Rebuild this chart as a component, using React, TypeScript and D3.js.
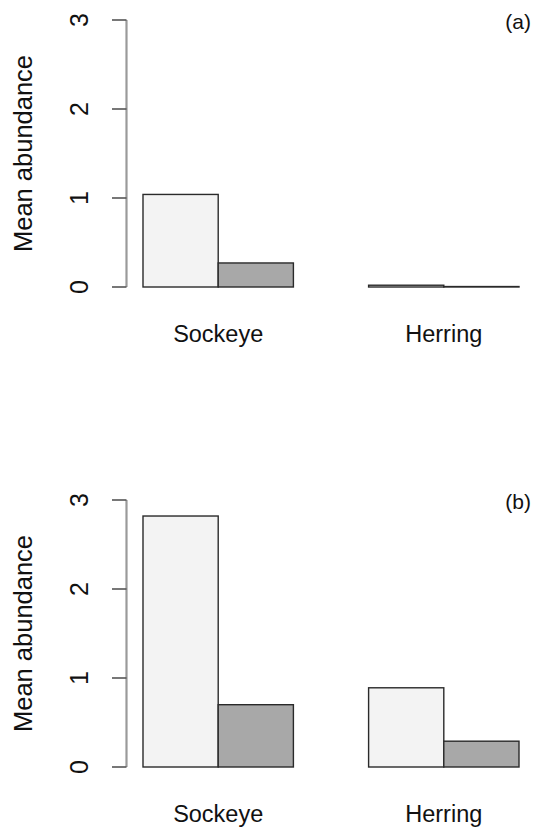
import React from "react";
import * as d3 from "d3";

const categories = ["Sockeye", "Herring"];
const seriesNames = ["Series 1", "Series 2"];
const panelLabels = ["(a)", "(b)"];
const panelAValues = [
  [1.04, 0.27],
  [0.02, 0.005],
];
const panelBValues = [
  [2.82, 0.7],
  [0.89, 0.29],
];
const yTicks = [0, 1, 2, 3];
const yLabel = "Mean abundance";

const W = 533;
const H = 829;
const FONT = "'Liberation Sans', Arial, Helvetica, sans-serif";
const fills = ["#f3f3f3", "#a8a8a8"];

const panels = [
  { label: panelLabels[0], values: panelAValues, top: 20, bottom: 287 },
  { label: panelLabels[1], values: panelBValues, top: 500, bottom: 767 },
];

const xGroup = d3
  .scaleBand<string>()
  .domain(categories)
  .range([143, 519])
  .paddingInner(1 / 3)
  .paddingOuter(0);
const xInner = d3
  .scaleBand<string>()
  .domain(seriesNames)
  .range([0, xGroup.bandwidth()])
  .padding(0);

function Panel({ p }: { p: (typeof panels)[number] }) {
  const y = d3.scaleLinear().domain([0, 3]).range([p.bottom, p.top]);
  const axisX = 126.5;
  const mid = (p.top + p.bottom) / 2;
  return (
    <g>
      {/* bars */}
      {categories.map((c, ci) => (
        <g key={c} transform={`translate(${xGroup(c)},0)`}>
          {seriesNames.map((s, si) => {
            const v = p.values[ci][si];
            return (
              <rect
                key={s}
                x={xInner(s)}
                y={y(v)}
                width={xInner.bandwidth()}
                height={Math.max(0.01, y(0) - y(v))}
                fill={fills[si]}
                stroke="#2a2a2a"
                strokeWidth={1.4}
              />
            );
          })}
          <text
            x={xGroup.bandwidth() / 2}
            y={y(0) + 55}
            textAnchor="middle"
            fontSize={23.5}
            fontFamily={FONT}
            fill="#111"
          >
            {c}
          </text>
        </g>
      ))}
      {/* y axis */}
      <line
        x1={axisX}
        x2={axisX}
        y1={y(3)}
        y2={y(0)}
        stroke="#9a9a9a"
        strokeWidth={2.2}
      />
      {yTicks.map((t) => (
        <g key={t}>
          <line
            x1={112}
            x2={axisX}
            y1={y(t)}
            y2={y(t)}
            stroke="#555"
            strokeWidth={1.6}
          />
          <text
            transform={`translate(88,${y(t)}) rotate(-90)`}
            textAnchor="middle"
            fontSize={25}
            fontFamily={FONT}
            fill="#111"
          >
            {t}
          </text>
        </g>
      ))}
      <text
        transform={`translate(31.5,${mid}) rotate(-90)`}
        textAnchor="middle"
        fontSize={25.5}
        fontFamily={FONT}
        fill="#111"
      >
        {yLabel}
      </text>
      <text
        x={531}
        y={p.top + 9}
        textAnchor="end"
        fontSize={21}
        fontFamily={FONT}
        fill="#111"
      >
        {p.label}
      </text>
    </g>
  );
}

export default function App() {
  return (
    <div style={{ position: "absolute", left: 0, top: 0 }}>
      <svg width={W} height={H} viewBox={`0 0 ${W} ${H}`} style={{ display: "block", background: "#fff" }}>
        <rect x={0} y={0} width={W} height={H} fill="#fff" />
        {panels.map((p) => (
          <Panel key={p.label} p={p} />
        ))}
      </svg>
    </div>
  );
}
